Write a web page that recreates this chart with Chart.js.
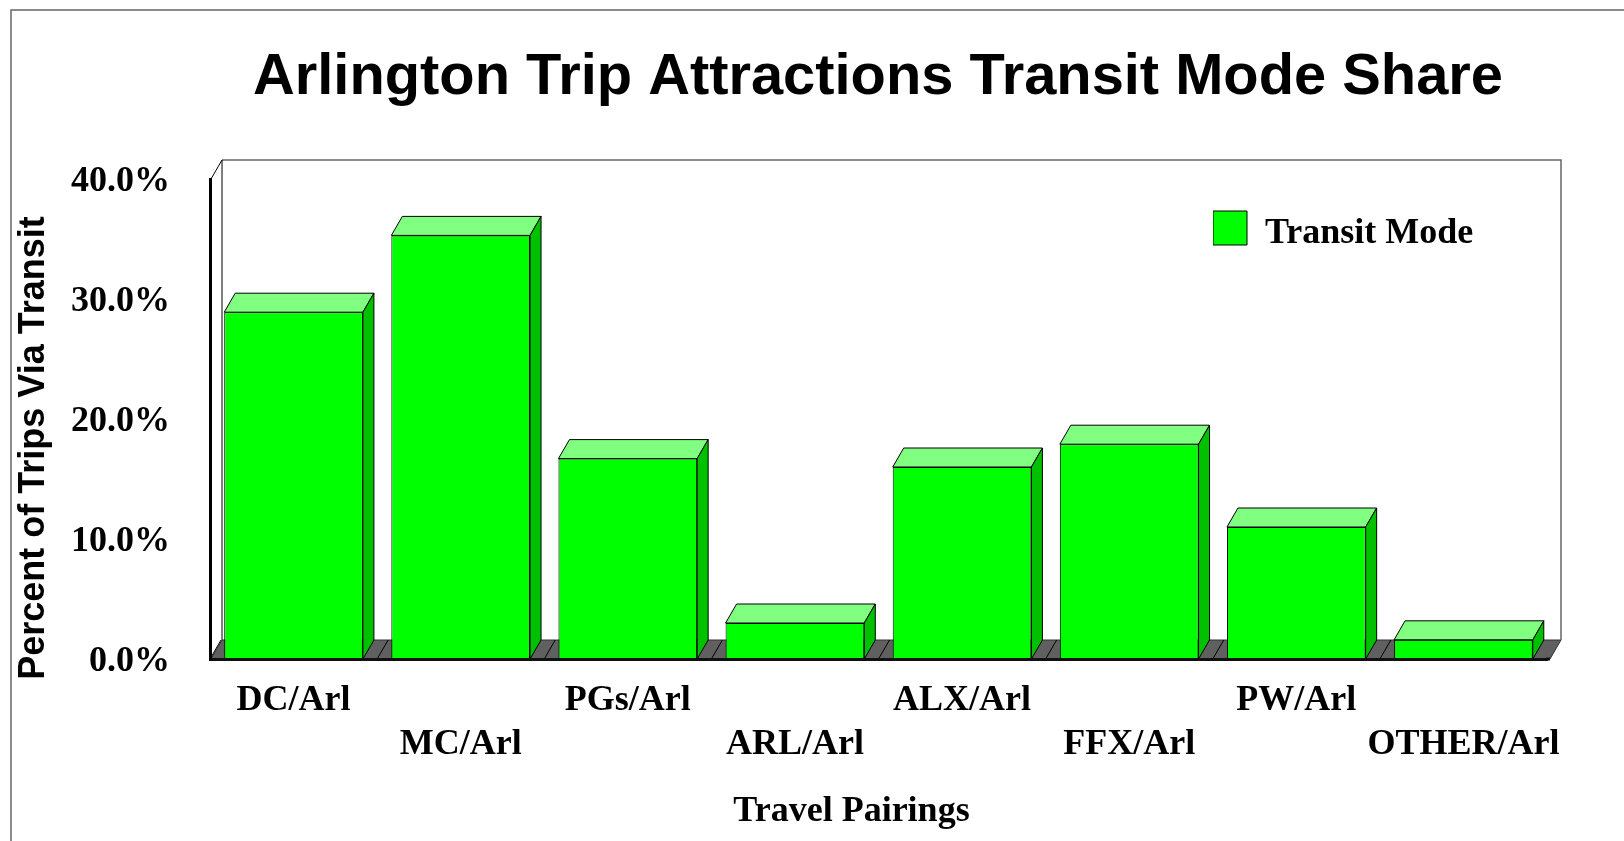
<!DOCTYPE html>
<html>
<head>
<meta charset="utf-8">
<title>Arlington Trip Attractions Transit Mode Share</title>
<script src="https://cdn.jsdelivr.net/npm/chart.js@4"></script>
<style>
    html, body { margin: 0; padding: 0; background: #fff; }
    canvas { display: block; }
</style>
</head>
<body>
<canvas id="chart" width="1624" height="841"></canvas>
<script>
const chartTitle = 'Arlington Trip Attractions Transit Mode Share';
const seriesName = 'Transit Mode';
const yTitle = 'Percent of Trips Via Transit';
const xTitle = 'Travel Pairings';
// blank first line puts every second label on the lower row
const categories = [['DC/Arl'], ['', 'MC/Arl'], ['PGs/Arl'], ['', 'ARL/Arl'], ['ALX/Arl'], ['', 'FFX/Arl'], ['PW/Arl'], ['', 'OTHER/Arl']];
const transitShare = [28.9, 35.3, 16.7, 3.0, 16.0, 17.9, 11.0, 1.6];
const yTickLabels = ['0.0%', '10.0%', '20.0%', '30.0%', '40.0%'];

const serif = '"Liberation Serif", "Times New Roman", serif';
const sans = '"Liberation Sans", Arial, sans-serif';
const depthX = 11;
const depthY = 19;

// nudge one of a scale's draw methods without touching the layout
function shiftDraw(scale, method, dx, dy) {
    const original = scale[method];
    scale[method] = function (...args) {
        this.ctx.save();
        this.ctx.translate(dx, dy);
        original.apply(this, args);
        this.ctx.restore();
    };
}

// legend text sits a little lower than the middle of its swatch
function shiftLegendText(legend, dy) {
    const original = legend.draw;
    legend.draw = function (...args) {
        const ctx = this.ctx;
        const fillText = ctx.fillText;
        ctx.fillText = (text, x, y, maxWidth) => fillText.call(ctx, text, x, y + dy, maxWidth);
        original.apply(this, args);
        delete ctx.fillText;
    };
}

function poly(ctx, points, fill, stroke, lineWidth) {
    ctx.beginPath();
    points.forEach((p, i) => i ? ctx.lineTo(p[0], p[1]) : ctx.moveTo(p[0], p[1]));
    ctx.closePath();
    if (fill) {
        ctx.fillStyle = fill;
        ctx.fill();
    }
    if (stroke) {
        ctx.strokeStyle = stroke;
        ctx.lineWidth = lineWidth || 1;
        ctx.stroke();
    }
}

const boxPlugin = {
    id: 'box3d',
    afterLayout(chart) {
        const title = chart.titleBlock;
        title.left = 253;
        title.right = 1503;
        const legend = chart.legend;
        legend.left = 1213;
        legend.right = 1480;
        legend.top = 210;
        legend.bottom = 254;
        if (!chart.titlesShifted) {
            shiftDraw(chart.scales.y, 'drawTitle', 0, 29);
            shiftDraw(chart.scales.y, 'drawLabels', 0, 3);
            shiftDraw(chart.scales.x, 'drawTitle', -27, 0);
            shiftLegendText(legend, 6);
            chart.titlesShifted = true;
        }
    },
    beforeDraw(chart) {
        // outer frame, only its left and top edges are inside the picture
        const ctx = chart.ctx;
        ctx.save();
        ctx.strokeStyle = '#666666';
        ctx.lineWidth = 1.5;
        ctx.beginPath();
        ctx.moveTo(11, 841);
        ctx.lineTo(11, 10);
        ctx.lineTo(1624, 10);
        ctx.stroke();
        ctx.restore();
    },
    beforeDatasetsDraw(chart) {
        const ctx = chart.ctx;
        const { x, y } = chart.scales;
        const bottom = y.getPixelForValue(0);
        const top = y.getPixelForValue(40);
        const left = x.left + 1;
        const right = x.right + 3;
        ctx.save();
        // floor
        poly(ctx, [[left, bottom], [left + depthX, bottom - depthY], [right + depthX, bottom - depthY], [right, bottom]], '#606060', '#333333', 1);
        // diagonal at each category boundary
        ctx.strokeStyle = '#000000';
        ctx.lineWidth = 1;
        const step = (x.right - x.left) / categories.length;
        categories.forEach((c, i) => {
            const bx = x.left + step * i;
            ctx.beginPath();
            ctx.moveTo(bx, bottom);
            ctx.lineTo(bx + depthX, bottom - depthY);
            ctx.stroke();
        });
        // back wall
        ctx.strokeStyle = '#666666';
        ctx.lineWidth = 1.5;
        ctx.beginPath();
        ctx.moveTo(left + depthX, top - depthY);
        ctx.lineTo(right + depthX, top - depthY);
        ctx.lineTo(right + depthX, bottom - depthY);
        ctx.stroke();
        ctx.strokeStyle = '#000000';
        ctx.lineWidth = 1;
        ctx.beginPath();
        ctx.moveTo(left, top);
        ctx.lineTo(left + depthX, top - depthY);
        ctx.lineTo(left + depthX, bottom - depthY);
        ctx.stroke();
        ctx.restore();
    },
    afterDatasetsDraw(chart) {
        const ctx = chart.ctx;
        const { x, y } = chart.scales;
        ctx.save();
        ctx.lineJoin = 'round';
        chart.getDatasetMeta(0).data.forEach(bar => {
            const l = bar.x - bar.width / 2;
            const r = bar.x + bar.width / 2;
            poly(ctx, [[l, bar.y], [l + depthX, bar.y - depthY], [r + depthX, bar.y - depthY], [r, bar.y]], '#80FF80', '#000000', 1);
            poly(ctx, [[r, bar.y], [r + depthX, bar.y - depthY], [r + depthX, bar.base - depthY], [r, bar.base]], '#00C000', '#000000', 1);
        });
        // axis line runs a little past the last category
        ctx.strokeStyle = '#111111';
        ctx.lineWidth = 3;
        ctx.beginPath();
        ctx.moveTo(x.right - 1, y.getPixelForValue(0));
        ctx.lineTo(x.right + 3, y.getPixelForValue(0));
        ctx.stroke();
        ctx.restore();
    }
};

new Chart(document.getElementById('chart'), {
    type: 'bar',
    data: {
        labels: categories,
        datasets: [{
            label: seriesName,
            data: transitShare,
            backgroundColor: '#00FF00',
            borderColor: '#000000',
            borderWidth: 1,
            barPercentage: 0.83,
            categoryPercentage: 1
        }]
    },
    options: {
        responsive: false,
        animation: false,
        layout: { padding: { left: 0, right: 77, top: 0, bottom: 0 } },
        plugins: {
            tooltip: { enabled: false },
            title: {
                display: true,
                text: chartTitle,
                color: '#000',
                font: { family: sans, size: 58, weight: 'bold' },
                padding: { top: 43, bottom: 66.4 }
            },
            legend: {
                position: 'chartArea',
                align: 'start',
                labels: {
                    boxWidth: 34,
                    boxHeight: 34,
                    padding: 0,
                    color: '#000',
                    font: { family: serif, size: 36, weight: 'bold' }
                }
            }
        },
        scales: {
            x: {
                afterFit(scale) { scale.height = 182; },
                grid: { display: false },
                border: { color: '#111111', width: 3, z: 1 },
                ticks: {
                    autoSkip: false,
                    maxRotation: 0,
                    minRotation: 0,
                    padding: 11,
                    color: '#000',
                    font: { family: serif, size: 36, weight: 'bold', lineHeight: 1.24 }
                },
                title: {
                    display: true,
                    text: xTitle,
                    color: '#000',
                    font: { family: serif, size: 36, weight: 'bold' },
                    padding: { top: 0, bottom: 8 }
                }
            },
            y: {
                min: 0,
                max: 40,
                afterFit(scale) { scale.width = 210; },
                grid: { display: false },
                border: { color: '#000000', width: 3, z: 1 },
                ticks: {
                    stepSize: 10,
                    padding: 32,
                    color: '#000',
                    font: { family: serif, size: 36, weight: 'bold' },
                    callback: (value) => yTickLabels[value / 10]
                },
                title: {
                    display: true,
                    text: yTitle,
                    color: '#000',
                    font: { family: sans, size: 36, weight: 'bold' },
                    padding: { top: 12, bottom: 0 }
                }
            }
        }
    },
    plugins: [boxPlugin]
});
</script>
</body>
</html>
